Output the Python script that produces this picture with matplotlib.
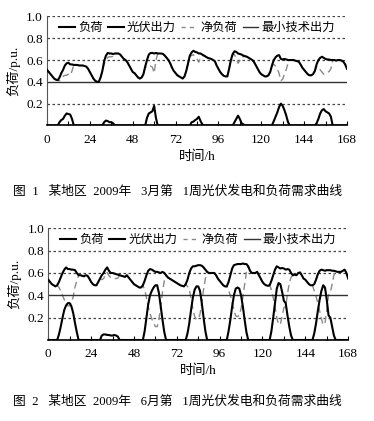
import numpy as np
import matplotlib
matplotlib.use("Agg")
import matplotlib.pyplot as plt

plt.rcParams['font.family'] = ['Liberation Serif', 'Noto Sans CJK SC']
plt.rcParams['axes.unicode_minus'] = False

# ────────────────────────────────────────────────
# Data (hourly, p.u.)
# ────────────────────────────────────────────────
hours = np.arange(0, 169)

load_mar = [
    0.51, 0.49, 0.47, 0.45, 0.43, 0.42, 0.415, 0.44, 0.48, 0.51, 0.55, 0.57, 0.575, 0.56, 0.56, 0.555, 0.555, 0.555, 0.55, 0.55, 0.55, 0.545, 0.54, 0.52,
    0.49, 0.46, 0.43, 0.41, 0.40, 0.40, 0.44, 0.50, 0.59, 0.64, 0.665, 0.66, 0.66, 0.655, 0.66, 0.66, 0.66, 0.65, 0.63, 0.61, 0.60, 0.58, 0.55, 0.52,
    0.49, 0.48, 0.46, 0.44, 0.43, 0.44, 0.47, 0.54, 0.60, 0.65, 0.665, 0.665, 0.66, 0.665, 0.66, 0.66, 0.66, 0.655, 0.64, 0.62, 0.60, 0.57, 0.53, 0.50,
    0.48, 0.46, 0.45, 0.44, 0.43, 0.45, 0.50, 0.57, 0.64, 0.67, 0.685, 0.675, 0.67, 0.66, 0.66, 0.65, 0.64, 0.63, 0.62, 0.615, 0.61, 0.60, 0.59, 0.55,
    0.52, 0.49, 0.47, 0.455, 0.45, 0.45, 0.52, 0.60, 0.655, 0.68, 0.675, 0.66, 0.655, 0.65, 0.64, 0.635, 0.63, 0.62, 0.61, 0.60, 0.58, 0.55, 0.52, 0.49,
    0.47, 0.46, 0.45, 0.45, 0.46, 0.49, 0.55, 0.60, 0.625, 0.64, 0.645, 0.61, 0.605, 0.61, 0.605, 0.60, 0.60, 0.60, 0.60, 0.595, 0.59, 0.585, 0.56, 0.53,
    0.51, 0.49, 0.47, 0.46, 0.46, 0.47, 0.50, 0.56, 0.60, 0.62, 0.63, 0.62, 0.61, 0.605, 0.605, 0.60, 0.60, 0.60, 0.595, 0.60, 0.60, 0.595, 0.585, 0.56,
    0.52,
]

pv_mar = [
    0, 0, 0, 0, 0, 0, 0, 0.03, 0.05, 0.06, 0.09, 0.11, 0.105, 0.10, 0.06, 0, 0, 0, 0, 0, 0, 0, 0, 0,
    0, 0, 0, 0, 0, 0, 0, 0, 0.03, 0.045, 0.04, 0.03, 0.03, 0.02, 0, 0, 0, 0, 0, 0, 0, 0, 0, 0,
    0, 0, 0, 0, 0, 0, 0, 0, 0.07, 0.11, 0.12, 0.13, 0.18, 0.07, 0, 0, 0, 0, 0, 0, 0, 0, 0, 0,
    0, 0, 0, 0, 0, 0, 0, 0, 0, 0.03, 0.035, 0.05, 0.06, 0.08, 0.04, 0.01, 0, 0, 0, 0, 0, 0, 0, 0,
    0, 0, 0, 0, 0, 0, 0, 0, 0, 0.03, 0.06, 0.09, 0.06, 0.02, 0.01, 0, 0, 0, 0, 0, 0, 0, 0, 0,
    0, 0, 0, 0, 0, 0, 0, 0.04, 0.08, 0.12, 0.17, 0.20, 0.18, 0.14, 0.09, 0.03, 0, 0, 0, 0, 0, 0, 0, 0,
    0, 0, 0, 0, 0, 0, 0, 0.02, 0.06, 0.11, 0.14, 0.15, 0.13, 0.12, 0.11, 0.08, 0, 0, 0, 0, 0, 0, 0, 0,
    0,
]

load_jun = [
    0.54, 0.52, 0.50, 0.49, 0.48, 0.49, 0.52, 0.56, 0.60, 0.63, 0.65, 0.635, 0.635, 0.63, 0.63, 0.625, 0.60, 0.58, 0.58, 0.575, 0.57, 0.58, 0.575, 0.55,
    0.52, 0.50, 0.49, 0.49, 0.52, 0.55, 0.58, 0.60, 0.63, 0.65, 0.62, 0.60, 0.60, 0.595, 0.59, 0.585, 0.58, 0.575, 0.57, 0.565, 0.58, 0.56, 0.54, 0.52,
    0.50, 0.49, 0.48, 0.47, 0.47, 0.49, 0.53, 0.58, 0.62, 0.635, 0.63, 0.62, 0.61, 0.61, 0.605, 0.60, 0.61, 0.60, 0.58, 0.56, 0.55, 0.54, 0.53, 0.52,
    0.51, 0.50, 0.49, 0.485, 0.48, 0.50, 0.54, 0.60, 0.64, 0.66, 0.66, 0.665, 0.67, 0.67, 0.665, 0.65, 0.63, 0.61, 0.60, 0.60, 0.60, 0.60, 0.58, 0.55,
    0.53, 0.51, 0.49, 0.48, 0.48, 0.52, 0.58, 0.64, 0.67, 0.675, 0.68, 0.68, 0.68, 0.685, 0.68, 0.68, 0.66, 0.62, 0.60, 0.60, 0.60, 0.61, 0.58, 0.55,
    0.52, 0.50, 0.49, 0.485, 0.49, 0.53, 0.58, 0.63, 0.66, 0.65, 0.64, 0.645, 0.64, 0.63, 0.635, 0.63, 0.60, 0.58, 0.585, 0.58, 0.60, 0.605, 0.58, 0.55,
    0.54, 0.52, 0.50, 0.49, 0.49, 0.50, 0.54, 0.59, 0.62, 0.63, 0.625, 0.62, 0.625, 0.625, 0.625, 0.62, 0.62, 0.615, 0.61, 0.61, 0.61, 0.62, 0.63, 0.60,
    0.55,
]

pv_jun = [
    0, 0, 0, 0, 0, 0, 0.05, 0.12, 0.20, 0.27, 0.31, 0.33, 0.33, 0.30, 0.24, 0.15, 0.07, 0, 0, 0, 0, 0, 0, 0,
    0, 0, 0, 0, 0, 0, 0.04, 0.05, 0.05, 0.045, 0.045, 0.04, 0.04, 0.045, 0.04, 0.03, 0, 0, 0, 0, 0, 0, 0, 0,
    0, 0, 0, 0, 0, 0, 0.08, 0.20, 0.32, 0.40, 0.44, 0.47, 0.49, 0.49, 0.42, 0.30, 0.18, 0.07, 0, 0, 0, 0, 0, 0,
    0, 0, 0, 0, 0, 0, 0.06, 0.15, 0.27, 0.38, 0.45, 0.48, 0.48, 0.44, 0.33, 0.20, 0.08, 0, 0, 0, 0, 0, 0, 0,
    0, 0, 0, 0, 0, 0.08, 0.18, 0.30, 0.40, 0.46, 0.47, 0.46, 0.40, 0.30, 0.18, 0.07, 0, 0, 0, 0, 0, 0, 0, 0,
    0, 0, 0, 0, 0, 0.08, 0.20, 0.33, 0.46, 0.51, 0.50, 0.43, 0.35, 0.33, 0.22, 0.12, 0.04, 0, 0, 0, 0, 0, 0, 0,
    0, 0, 0, 0, 0, 0.06, 0.15, 0.26, 0.36, 0.44, 0.49, 0.47, 0.36, 0.22, 0.20, 0.12, 0.04, 0, 0, 0, 0, 0, 0, 0,
    0,
]

min_output = 0.4
x_ticks = [0, 24, 48, 72, 96, 120, 144, 168]
y_ticks = [0.2, 0.4, 0.6, 0.8, 1.0]
legend_labels = ["负荷", "光伏出力", "净负荷", "最小技术出力"]
captions = [
    "图  1   某地区  2009年   3月第   1周光伏发电和负荷需求曲线",
    "图  2   某地区  2009年   6月第   1周光伏发电和负荷需求曲线",
]

# ────────────────────────────────────────────────
# Plotting
# ────────────────────────────────────────────────
fig = plt.figure(figsize=(3.74, 4.21), dpi=100)

panels = [
    (load_mar, pv_mar, [0.1257, 0.702, 0.802, 0.259]),
    (load_jun, pv_jun, [0.129, 0.1924, 0.802, 0.2653]),
]

for i, (load, pv, rect) in enumerate(panels):
    ax = fig.add_axes(rect)
    load = np.array(load)
    pv = np.array(pv)
    net = load - pv

    # dotted grid lines (not at the min-output line)
    for yv in [0.2, 0.6, 0.8, 1.0]:
        ax.axhline(yv, color="#444444", lw=0.9, ls=(0, (2, 2)), zorder=1)

    ax.plot(hours, net, color="#8a8a8a", lw=1.0, ls=(0, (5, 3)), zorder=2)
    ax.plot(hours, pv, color="black", lw=1.5, zorder=3)
    ax.plot(hours, load, color="black", lw=1.5, zorder=4)
    ax.axhline(min_output, color="#333333", lw=1.0, zorder=2)

    ax.set_xlim(0, 168)
    ax.set_ylim(0, 1.0)
    ax.set_xticks(x_ticks)
    ax.set_xticks(np.arange(0, 169, 12), minor=True)
    ax.set_yticks(y_ticks)
    ax.set_yticklabels([f"{v:.1f}" for v in y_ticks])
    ax.tick_params(axis="x", which="both", direction="in", length=3, width=0.8,
                   labelsize=9.5, pad=6)
    ax.tick_params(axis="y", direction="in", length=0, labelsize=9.5, pad=3)

    for s in ["top", "right"]:
        ax.spines[s].set_visible(False)
    ax.spines["left"].set_color("#555555")
    ax.spines["left"].set_linewidth(0.8)
    ax.spines["bottom"].set_linewidth(1.2)

    ax.set_ylabel("负荷/p.u.", fontsize=9.5, labelpad=4)
    ax.set_xlabel("时间/h", fontsize=9.5, labelpad=3)

    # legend (one row across the top band)
    h_load, = ax.plot([], [], color="black", lw=1.5)
    h_pv, = ax.plot([], [], color="black", lw=1.5)
    h_net, = ax.plot([], [], color="#8a8a8a", lw=1.0, ls=(0, (3, 3)))
    h_min, = ax.plot([], [], color="#333333", lw=1.0)
    ax.legend([h_load, h_pv, h_net, h_min], legend_labels, ncol=4,
              loc="center", bbox_to_anchor=(0.5, 0.895), frameon=False,
              fontsize=8.8, handlelength=1.3, handletextpad=0.25,
              columnspacing=0.45, borderaxespad=0, borderpad=0)

fig.text(0.035, 1 - 192 / 421, captions[0], fontsize=9.2, va="center", ha="left")
fig.text(0.035, 1 - 402 / 421, captions[1], fontsize=9.2, va="center", ha="left")

plt.savefig("out.png", dpi=100)
